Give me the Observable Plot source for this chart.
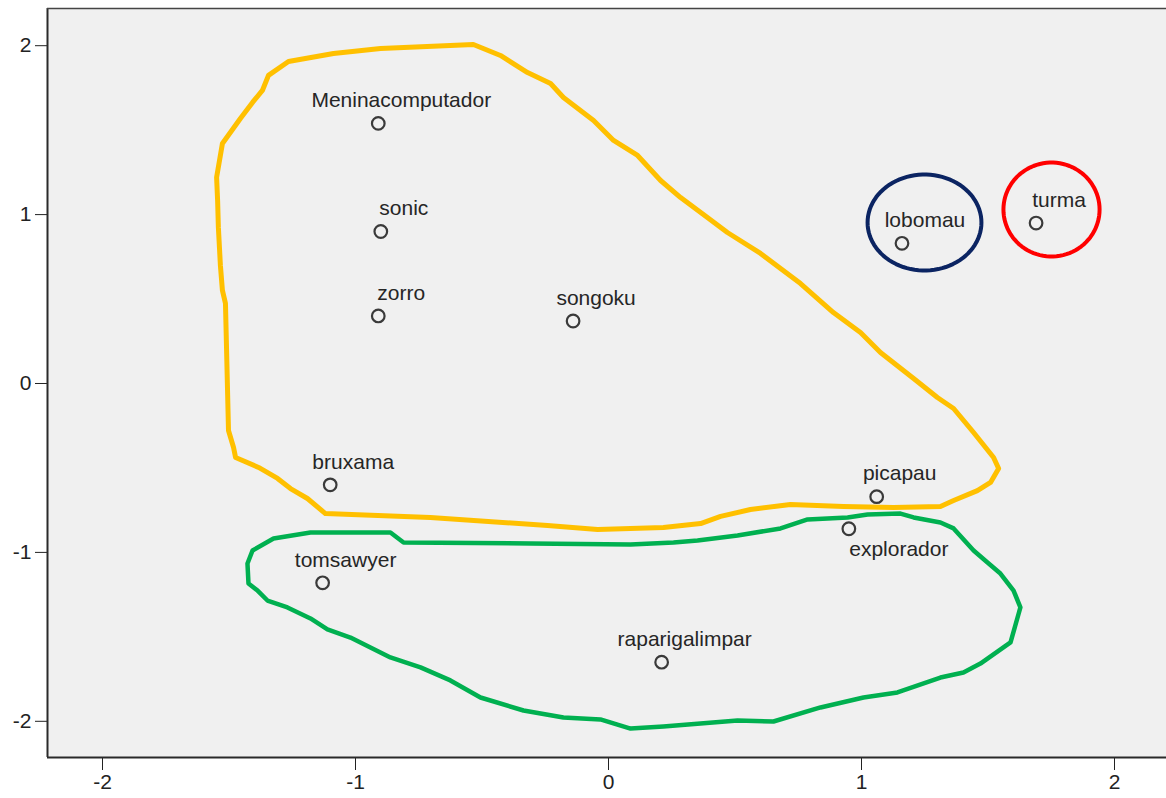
<!DOCTYPE html>
<html>
<head>
<meta charset="utf-8">
<script src="https://cdn.jsdelivr.net/npm/d3@7"></script>
<script src="https://cdn.jsdelivr.net/npm/@observablehq/plot@0.6"></script>
<style>
  html, body { margin: 0; padding: 0; background: #ffffff; }
  #chart svg { display: block; }
</style>
</head>
<body>
<div id="chart"></div>
<script>
// ---- data ----
const names = ["Meninacomputador","sonic","zorro","songoku","bruxama","tomsawyer","raparigalimpar","explorador","picapau","lobomau","turma"];
const dim1  = [-0.91, -0.90, -0.91, -0.14, -1.10, -1.13, 0.21, 0.95, 1.06, 1.16, 1.69];
const dim2  = [ 1.54,  0.90,  0.40,  0.37, -0.60, -1.18, -1.65, -0.86, -0.67, 0.83, 0.95];
const labelBelow = ["explorador"];

const tickValues = [-2, -1, 0, 1, 2];

// yellow cluster outline (data units)
const yellowX = [-0.534,-0.901,-1.087,-1.265,-1.344,-1.368,-1.407,-1.455,-1.526,-1.549,-1.545,-1.542,-1.534,-1.526,-1.514,-1.502,-1.482,-1.474,-1.383,-1.308,-1.257,-1.190,-1.119,-0.704,-0.241,-0.043,0.217,0.364,0.443,0.561,0.719,0.929,1.126,1.312,1.364,1.458,1.510,1.542,1.522,1.443,1.364,1.300,1.206,1.075,0.996,0.889,0.759,0.601,0.470,0.391,0.285,0.206,0.115,0.020,-0.059,-0.178,-0.229,-0.320,-0.427];
const yellowY = [2.007,1.983,1.954,1.906,1.824,1.735,1.664,1.569,1.421,1.220,1.083,0.924,0.699,0.551,0.474,-0.278,-0.379,-0.438,-0.497,-0.562,-0.622,-0.681,-0.770,-0.793,-0.841,-0.864,-0.853,-0.829,-0.787,-0.746,-0.716,-0.728,-0.734,-0.728,-0.693,-0.634,-0.586,-0.503,-0.438,-0.290,-0.148,-0.083,0.030,0.184,0.302,0.420,0.592,0.770,0.894,0.983,1.101,1.202,1.350,1.439,1.557,1.693,1.776,1.841,1.942];

// green cluster outline (data units)
const greenX = [-0.862,-1.178,-1.324,-1.407,-1.427,-1.423,-1.387,-1.348,-1.269,-1.178,-1.111,-1.020,-0.941,-0.862,-0.743,-0.625,-0.506,-0.336,-0.178,-0.032,0.087,0.217,0.510,0.652,0.838,1.008,1.142,1.312,1.403,1.470,1.589,1.628,1.601,1.549,1.498,1.443,1.364,1.312,1.206,1.154,1.024,0.945,0.787,0.680,0.510,0.352,0.257,0.087,-0.308,-0.810];
const greenY = [-0.882,-0.882,-0.918,-0.989,-1.066,-1.184,-1.226,-1.285,-1.326,-1.391,-1.456,-1.504,-1.563,-1.622,-1.681,-1.758,-1.859,-1.936,-1.978,-1.989,-2.043,-2.031,-1.995,-2.001,-1.918,-1.859,-1.829,-1.741,-1.711,-1.658,-1.533,-1.326,-1.226,-1.125,-1.060,-0.989,-0.858,-0.823,-0.793,-0.770,-0.776,-0.793,-0.805,-0.858,-0.900,-0.930,-0.941,-0.953,-0.947,-0.941];

// single-point group rings (center and radii, data units)
const ringName = ["lobomau", "turma"];
const ringCx = [1.249, 1.751];
const ringCy = [0.953, 1.030];
const ringRx = [0.225, 0.190];
const ringRy = [0.284, 0.278];

// ---- build tables ----
const points = names.map((n, i) => ({name: n, x: dim1[i], y: dim2[i]}));
const yellow = yellowX.map((x, i) => ({x, y: yellowY[i]}));
const green = greenX.map((x, i) => ({x, y: greenY[i]}));
function ringPath(k) {
  const out = [];
  const N = 90;
  for (let j = 0; j < N; j++) {
    const t = 2 * Math.PI * j / N;
    out.push({x: ringCx[k] + ringRx[k] * Math.cos(t), y: ringCy[k] + ringRy[k] * Math.sin(t)});
  }
  return out;
}

const xDomain = [-2.2174, 2.2055];
const yDomain = [-2.2143, 2.2202];
const font = "Arial, 'Liberation Sans', Helvetica, sans-serif";

const chart = Plot.plot({
  width: 1166,
  height: 798,
  marginLeft: 47,
  marginRight: 0,
  marginTop: 8,
  marginBottom: 41,
  style: {fontFamily: font, fontSize: "21px", color: "#222", background: "#ffffff"},
  x: {domain: xDomain, ticks: tickValues, tickFormat: d => String(d), tickSize: 13, tickPadding: 4, label: null},
  y: {domain: yDomain, ticks: tickValues, tickFormat: d => String(d), tickSize: 12, tickPadding: 4, label: null},
  marks: [
    Plot.frame({fill: "#f0f0f0", stroke: "none"}),
    Plot.ruleX([xDomain[0]], {stroke: "#2a2a2a", strokeWidth: 2}),
    Plot.ruleY([yDomain[0]], {stroke: "#2a2a2a", strokeWidth: 2}),
    Plot.ruleY([yDomain[1]], {stroke: "#444", strokeWidth: 1.5}),
    Plot.line(yellow, {x: "x", y: "y", curve: "linear-closed", stroke: "#ffc000", strokeWidth: 5, strokeLinejoin: "round"}),
    Plot.line(green, {x: "x", y: "y", curve: "linear-closed", stroke: "#00b050", strokeWidth: 4.5, strokeLinejoin: "round"}),
    Plot.line(ringPath(0), {x: "x", y: "y", curve: "linear-closed", stroke: "#0b2462", strokeWidth: 4}),
    Plot.line(ringPath(1), {x: "x", y: "y", curve: "linear-closed", stroke: "#ff0000", strokeWidth: 4}),
    Plot.dot(points, {x: "x", y: "y", r: 6.3, stroke: "#3a3a3a", strokeWidth: 2.2, fill: "none"}),
    Plot.text(points.filter(d => !labelBelow.includes(d.name)), {x: "x", y: "y", text: "name", dx: 23, dy: -23, fontSize: 21, fill: "#262626", textAnchor: "middle"}),
    Plot.text(points.filter(d => labelBelow.includes(d.name)), {x: "x", y: "y", text: "name", dx: 50, dy: 21, fontSize: 21, fill: "#262626", textAnchor: "middle"})
  ]
});
document.getElementById("chart").appendChild(chart);
</script>
</body>
</html>
